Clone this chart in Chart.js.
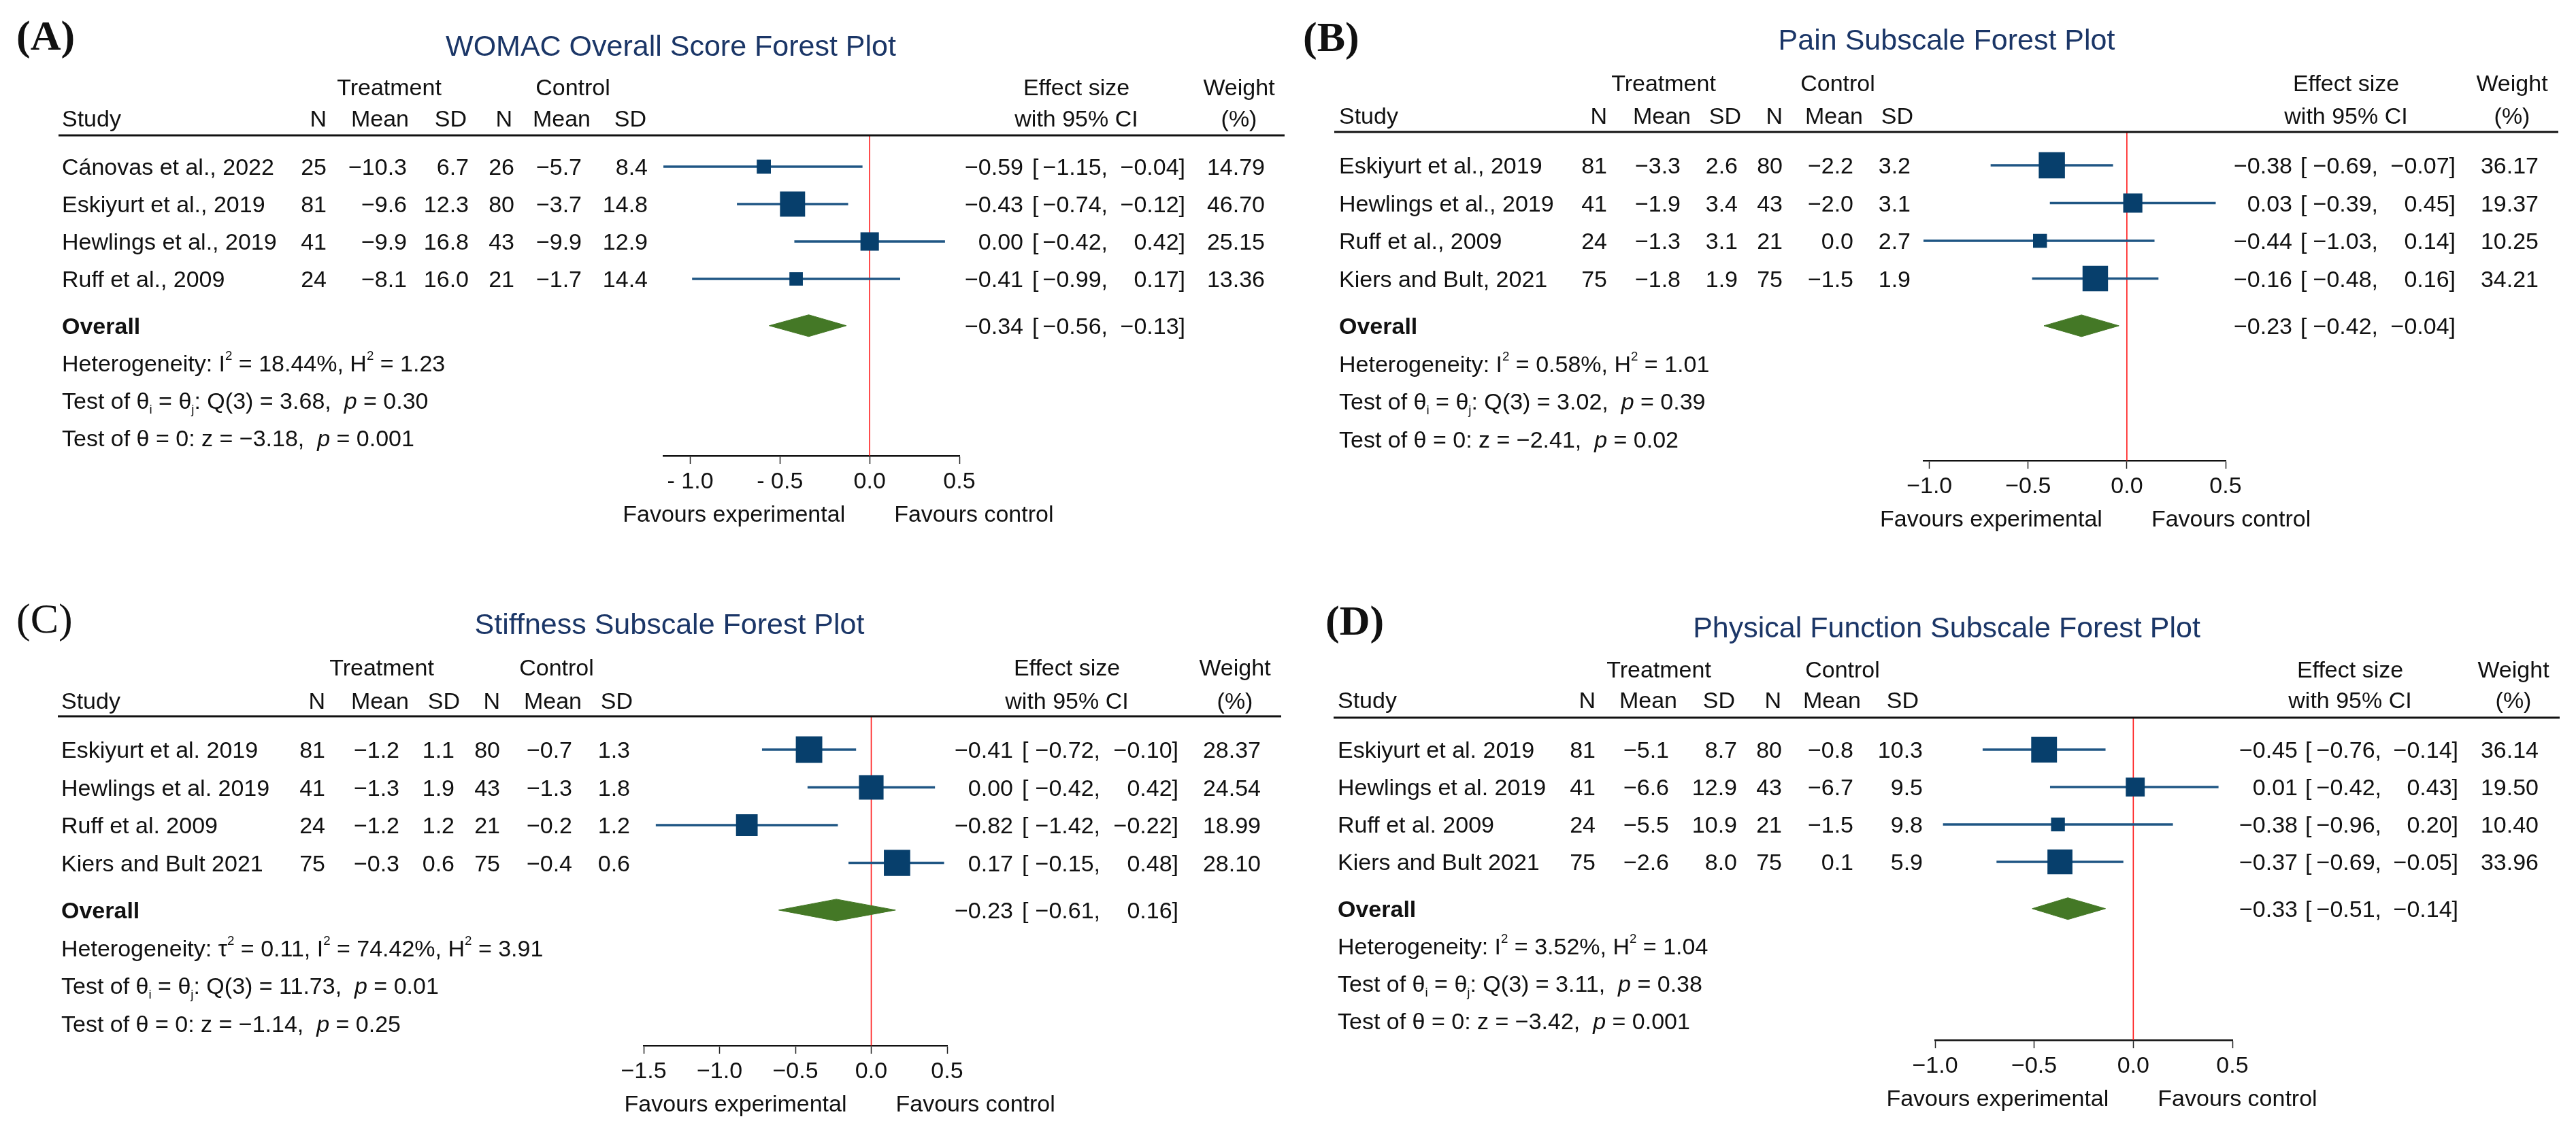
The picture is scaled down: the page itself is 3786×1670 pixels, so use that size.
<!DOCTYPE html>
<html>
<head>
<meta charset="utf-8">
<script src="https://cdn.jsdelivr.net/npm/chart.js@4.4.0/dist/chart.umd.min.js"></script>
<style>
  html, body { margin: 0; padding: 0; background: #fff; }
  #wrap { position: relative; width: 3786px; height: 1670px; background: #fff; overflow: hidden; }
  canvas { position: absolute; }
</style>
</head>
<body>
<div id="wrap">
  <canvas id="cA" width="1893" height="820" style="left:0px;top:0px;width:1893px;height:820px"></canvas>
  <canvas id="cB" width="1893" height="820" style="left:1893px;top:0px;width:1893px;height:820px"></canvas>
  <canvas id="cC" width="1893" height="850" style="left:0px;top:820px;width:1893px;height:850px"></canvas>
  <canvas id="cD" width="1893" height="850" style="left:1893px;top:820px;width:1893px;height:850px"></canvas>
</div>
<script>
// ---------- (A) WOMAC overall ----------
const studiesA = ['Cánovas et al., 2022', 'Eskiyurt et al., 2019', 'Hewlings et al., 2019', 'Ruff et al., 2009'];
const trtNA = [25, 81, 41, 24];
const trtMeanA = [-10.3, -9.6, -9.9, -8.1];
const trtSdA = [6.7, 12.3, 16.8, 16.0];
const ctlNA = [26, 80, 43, 21];
const ctlMeanA = [-5.7, -3.7, -9.9, -1.7];
const ctlSdA = [8.4, 14.8, 12.9, 14.4];
const effectA = [-0.59, -0.43, 0.00, -0.41];
const lowerA = [-1.15, -0.74, -0.42, -0.99];
const upperA = [-0.04, -0.12, 0.42, 0.17];
const weightA = [14.79, 46.70, 25.15, 13.36];
const overallA = [-0.34, -0.56, -0.13];          // es, lower, upper
const heteroA = [null, 18.44, 1.23];             // tau2, I2 (%), H2
const testsA = [3.68, '0.30', -3.18, '0.001'];   // Q, p, z, p
const ticksA = [-1.0, -0.5, 0.0, 0.5];
const tickLabelsA = ['- 1.0', '- 0.5', '0.0', '0.5'];

// ---------- (B) Pain ----------
const studiesB = ['Eskiyurt et al., 2019', 'Hewlings et al., 2019', 'Ruff et al., 2009', 'Kiers and Bult, 2021'];
const trtNB = [81, 41, 24, 75];
const trtMeanB = [-3.3, -1.9, -1.3, -1.8];
const trtSdB = [2.6, 3.4, 3.1, 1.9];
const ctlNB = [80, 43, 21, 75];
const ctlMeanB = [-2.2, -2.0, 0.0, -1.5];
const ctlSdB = [3.2, 3.1, 2.7, 1.9];
const effectB = [-0.38, 0.03, -0.44, -0.16];
const lowerB = [-0.69, -0.39, -1.03, -0.48];
const upperB = [-0.07, 0.45, 0.14, 0.16];
const weightB = [36.17, 19.37, 10.25, 34.21];
const overallB = [-0.23, -0.42, -0.04];
const heteroB = [null, 0.58, 1.01];
const testsB = [3.02, '0.39', -2.41, '0.02'];
const ticksB = [-1.0, -0.5, 0.0, 0.5];
const tickLabelsB = ['−1.0', '−0.5', '0.0', '0.5'];

// ---------- (C) Stiffness ----------
const studiesC = ['Eskiyurt et al. 2019', 'Hewlings et al. 2019', 'Ruff et al. 2009', 'Kiers and Bult 2021'];
const trtNC = [81, 41, 24, 75];
const trtMeanC = [-1.2, -1.3, -1.2, -0.3];
const trtSdC = [1.1, 1.9, 1.2, 0.6];
const ctlNC = [80, 43, 21, 75];
const ctlMeanC = [-0.7, -1.3, -0.2, -0.4];
const ctlSdC = [1.3, 1.8, 1.2, 0.6];
const effectC = [-0.41, 0.00, -0.82, 0.17];
const lowerC = [-0.72, -0.42, -1.42, -0.15];
const upperC = [-0.10, 0.42, -0.22, 0.48];
const weightC = [28.37, 24.54, 18.99, 28.10];
const overallC = [-0.23, -0.61, 0.16];
const heteroC = [0.11, 74.42, 3.91];
const testsC = [11.73, '0.01', -1.14, '0.25'];
const ticksC = [-1.5, -1.0, -0.5, 0.0, 0.5];
const tickLabelsC = ['−1.5', '−1.0', '−0.5', '0.0', '0.5'];

// ---------- (D) Physical function ----------
const studiesD = ['Eskiyurt et al. 2019', 'Hewlings et al. 2019', 'Ruff et al. 2009', 'Kiers and Bult 2021'];
const trtND = [81, 41, 24, 75];
const trtMeanD = [-5.1, -6.6, -5.5, -2.6];
const trtSdD = [8.7, 12.9, 10.9, 8.0];
const ctlND = [80, 43, 21, 75];
const ctlMeanD = [-0.8, -6.7, -1.5, 0.1];
const ctlSdD = [10.3, 9.5, 9.8, 5.9];
const effectD = [-0.45, 0.01, -0.38, -0.37];
const lowerD = [-0.76, -0.42, -0.96, -0.69];
const upperD = [-0.14, 0.43, 0.20, -0.05];
const weightD = [36.14, 19.50, 10.40, 33.96];
const overallD = [-0.33, -0.51, -0.14];
const heteroD = [null, 3.52, 1.04];
const testsD = [3.11, '0.38', -3.42, '0.001'];
const ticksD = [-1.0, -0.5, 0.0, 0.5];
const tickLabelsD = ['−1.0', '−0.5', '0.0', '0.5'];

const FONT = '"Liberation Sans", Arial, Helvetica, sans-serif';
const INK = '#111111';
const NAVY = '#1b3667';
const BOX = '#073f6c';
const CI = '#1f5684';
const GREEN = '#447826';
const RED = '#ff1a1a';
const FS = 34;

function fmt(v, d) {
  return (v < 0 ? '−' : '') + Math.abs(v).toFixed(d);
}

function txt(ctx, s, x, y, align, size, opt) {
  opt = opt || {};
  ctx.font = (opt.bold ? 'bold ' : '') + size + 'px ' + (opt.family || FONT);
  ctx.textAlign = align;
  ctx.textBaseline = 'alphabetic';
  ctx.fillStyle = opt.color || INK;
  ctx.fillText(s, x, y + size * 0.36);
}

function rich(ctx, parts, x, y, size) {
  let cx = x;
  ctx.textAlign = 'left';
  ctx.textBaseline = 'alphabetic';
  ctx.fillStyle = INK;
  parts.forEach(p => {
    const small = p.sub || p.sup;
    const fs = small ? size * 0.55 : size;
    ctx.font = (p.it ? 'italic ' : '') + fs + 'px ' + FONT;
    const dy = p.sub ? size * 0.2 : (p.sup ? -size * 0.5 : 0);
    ctx.fillText(p.t, cx, y + size * 0.36 + dy);
    cx += ctx.measureText(p.t).width;
  });
}

const tablePlugin = {
  id: 'forestTable',
  afterDraw(chart) {
    const d = chart.config.options.plugins.forestTable.data;
    const L = chart.config.options.plugins.forestTable.layout;
    const ctx = chart.ctx;
    const ys = chart.scales.y, xs = chart.scales.x;
    const n = d.studies.length;
    ctx.save();

    // panel letter and title
    txt(ctx, L.letter, L.letterX, L.letterY - 62 * 0.36, 'left', 62,
      { bold: L.letterBold, family: '"Liberation Serif", "Times New Roman", serif' });
    txt(ctx, L.title, L.titleX, L.titleY, 'center', 43, { color: NAVY });

    // headers
    txt(ctx, 'Treatment', L.trtX, L.hdr1Y, 'center', FS);
    txt(ctx, 'Control', L.ctlX, L.hdr1Y, 'center', FS);
    txt(ctx, 'Effect size', L.esX, L.hdr1Y, 'center', FS);
    txt(ctx, 'Weight', L.wtX, L.hdr1Y, 'center', FS);
    txt(ctx, 'Study', L.colStudy, L.hdr2Y, 'left', FS);
    ['N', 'Mean', 'SD', 'N', 'Mean', 'SD'].forEach((h, j) => txt(ctx, h, L.colHdr[j], L.hdr2Y, 'right', FS));
    txt(ctx, 'with 95% CI', L.esX, L.hdr2Y, 'center', FS);
    txt(ctx, '(%)', L.wtX, L.hdr2Y, 'center', FS);

    // rule under the header
    ctx.fillStyle = INK;
    ctx.fillRect(L.ruleX[0], L.ruleY - 1.5, L.ruleX[1] - L.ruleX[0], 3);

    const effectText = (es, lo, hi, y) => {
      txt(ctx, fmt(es, 2), L.esR, y, 'right', FS);
      txt(ctx, '[', L.brL, y, 'left', FS);
      txt(ctx, fmt(lo, 2) + ',', L.loR, y, 'right', FS);
      txt(ctx, fmt(hi, 2) + ']', L.hiR, y, 'right', FS);
    };

    // study rows
    for (let i = 0; i < n; i++) {
      const y = ys.getPixelForValue(i);
      txt(ctx, d.studies[i], L.colStudy, y, 'left', FS);
      const cells = [String(d.trtN[i]), fmt(d.trtMean[i], 1), fmt(d.trtSd[i], 1),
        String(d.ctlN[i]), fmt(d.ctlMean[i], 1), fmt(d.ctlSd[i], 1)];
      cells.forEach((c, j) => txt(ctx, c, L.colData[j], y, 'right', FS));
      effectText(d.effect[i], d.lower[i], d.upper[i], y);
      txt(ctx, d.weight[i].toFixed(2), L.wtR, y, 'right', FS);
    }

    // overall
    const yo = ys.getPixelForValue(n + 0.25);
    txt(ctx, 'Overall', L.colStudy, yo, 'left', FS, { bold: true });
    effectText(d.overall[0], d.overall[1], d.overall[2], yo);

    // heterogeneity and tests
    const het = [{ t: 'Heterogeneity: ' }];
    if (d.hetero[0] !== null) het.push({ t: 'τ' }, { t: '2', sup: true }, { t: ' = ' + d.hetero[0].toFixed(2) + ', ' });
    het.push({ t: 'I' }, { t: '2', sup: true }, { t: ' = ' + d.hetero[1].toFixed(2) + '%, H' },
      { t: '2', sup: true }, { t: ' = ' + d.hetero[2].toFixed(2) });
    rich(ctx, het, L.colStudy, ys.getPixelForValue(n + 1.25), FS);
    rich(ctx, [{ t: 'Test of θ' }, { t: 'i', sub: true }, { t: ' = θ' }, { t: 'j', sub: true },
      { t: ': Q(' + (n - 1) + ') = ' + d.tests[0].toFixed(2) + ',  ' }, { t: 'p', it: true },
      { t: ' = ' + d.tests[1] }], L.colStudy, ys.getPixelForValue(n + 2.25), FS);
    rich(ctx, [{ t: 'Test of θ = 0: z = ' + fmt(d.tests[2], 2) + ',  ' }, { t: 'p', it: true },
      { t: ' = ' + d.tests[3] }], L.colStudy, ys.getPixelForValue(n + 3.25), FS);

    // favours labels
    const x0 = xs.getPixelForValue(0);
    const yf = chart.chartArea.bottom + 85;
    txt(ctx, 'Favours experimental', x0 - 36, yf, 'right', FS);
    txt(ctx, 'Favours control', x0 + 36, yf, 'left', FS);
    ctx.restore();
  }
};

function buildChart(id, d, L) {
  const n = d.studies.length;
  const yMin = (L.ruleY - L.row0) / L.rowH;
  const yMax = (L.axisY - L.row0) / L.rowH;
  const ov = n + 0.25;
  const hh = 16 / L.rowH;
  const datasets = [];
  datasets.push({
    type: 'scatter', label: 'Study estimate',
    data: d.effect.map((v, i) => ({ x: v, y: i })),
    pointStyle: 'rect',
    pointRadius: d.weight.map(w => L.boxK * Math.sqrt(w) / Math.SQRT2),
    pointBackgroundColor: BOX, pointBorderWidth: 0, backgroundColor: BOX, borderColor: BOX,
    clip: false, order: 1
  });
  datasets.push({
    type: 'line', label: 'Overall',
    data: [{ x: d.overall[1], y: ov }, { x: d.overall[0], y: ov - hh }, { x: d.overall[2], y: ov },
      { x: d.overall[0], y: ov + hh }, { x: d.overall[1], y: ov }],
    fill: 'shape', backgroundColor: GREEN, borderColor: GREEN, borderWidth: 1,
    pointRadius: 0, tension: 0, clip: false, order: 2
  });
  d.lower.forEach((lo, i) => datasets.push({
    type: 'line', label: 'CI ' + i,
    data: [{ x: lo, y: i }, { x: d.upper[i], y: i }],
    borderColor: CI, borderWidth: 3.5, pointRadius: 0, fill: false, clip: false, order: 3
  }));
  datasets.push({
    type: 'line', label: 'No effect',
    data: [{ x: 0, y: yMin }, { x: 0, y: yMax }],
    borderColor: RED, borderWidth: 1.6, pointRadius: 0, fill: false, order: 4
  });

  return new Chart(document.getElementById(id), {
    type: 'scatter',
    data: { datasets },
    options: {
      responsive: false,
      animation: false,
      events: [],
      layout: { padding: { left: L.plotL, right: L.W - L.plotR, top: L.ruleY, bottom: 0 } },
      plugins: {
        legend: { display: false },
        tooltip: { enabled: false },
        title: { display: false },
        forestTable: { data: d, layout: L }
      },
      scales: {
        x: {
          type: 'linear', position: 'bottom', min: L.xMin, max: L.xMax,
          afterBuildTicks: s => { s.ticks = d.ticks.map(v => ({ value: v })); },
          afterFit: s => { s.height = L.H - L.axisY; },
          ticks: {
            callback: (v, i) => d.tickLabels[i],
            font: { family: FONT, size: FS }, color: INK, padding: 6,
            maxRotation: 0, autoSkip: false
          },
          grid: { drawOnChartArea: false, drawTicks: true, tickLength: 12, color: '#222', tickWidth: 1.5 },
          border: { display: true, color: '#111', width: 2.5 }
        },
        y: { type: 'linear', display: false, reverse: true, min: yMin, max: yMax }
      }
    },
    plugins: [tablePlugin]
  });
}

const pack = (s) => s;
buildChart('cA', {
  studies: studiesA, trtN: trtNA, trtMean: trtMeanA, trtSd: trtSdA, ctlN: ctlNA, ctlMean: ctlMeanA,
  ctlSd: ctlSdA, effect: effectA, lower: lowerA, upper: upperA, weight: weightA, overall: overallA,
  hetero: heteroA, tests: testsA, ticks: ticksA, tickLabels: tickLabelsA
}, {
  W: 1893, H: 820, letter: '(A)', letterX: 24, letterY: 73, letterBold: true,
  title: 'WOMAC Overall Score Forest Plot', titleX: 986, titleY: 67,
  hdr1Y: 128, hdr2Y: 174, ruleY: 199, ruleX: [86, 1888],
  row0: 245, rowH: 55, axisY: 670, xMin: -1.15, xMax: 0.5, plotL: 975, plotR: 1410,
  colStudy: 91, colData: [480, 598, 689, 756, 855, 952], colHdr: [480, 601, 686, 753, 868, 950],
  trtX: 572, ctlX: 842, esX: 1582, wtX: 1821,
  esR: 1504, brL: 1517, loR: 1628, hiR: 1742, wtR: 1859, boxK: 5.4
});

buildChart('cB', {
  studies: studiesB, trtN: trtNB, trtMean: trtMeanB, trtSd: trtSdB, ctlN: ctlNB, ctlMean: ctlMeanB,
  ctlSd: ctlSdB, effect: effectB, lower: lowerB, upper: upperB, weight: weightB, overall: overallB,
  hetero: heteroB, tests: testsB, ticks: ticksB, tickLabels: tickLabelsB
}, {
  W: 1893, H: 820, letter: '(B)', letterX: 22, letterY: 75, letterBold: true,
  title: 'Pain Subscale Forest Plot', titleX: 968, titleY: 58,
  hdr1Y: 122, hdr2Y: 170, ruleY: 194, ruleX: [68, 1867],
  row0: 243, rowH: 55.5, axisY: 677, xMin: -1.03, xMax: 0.5, plotL: 934, plotR: 1378,
  colStudy: 75, colData: [469, 577, 661, 727, 831, 915], colHdr: [469, 592, 666, 727, 845, 919],
  trtX: 552, ctlX: 808, esX: 1555, wtX: 1799,
  esR: 1476, brL: 1488, loR: 1602, hiR: 1716, wtR: 1838, boxK: 6.4
});

buildChart('cC', {
  studies: studiesC, trtN: trtNC, trtMean: trtMeanC, trtSd: trtSdC, ctlN: ctlNC, ctlMean: ctlMeanC,
  ctlSd: ctlSdC, effect: effectC, lower: lowerC, upper: upperC, weight: weightC, overall: overallC,
  hetero: heteroC, tests: testsC, ticks: ticksC, tickLabels: tickLabelsC
}, {
  W: 1893, H: 850, letter: '(C)', letterX: 24, letterY: 110, letterBold: false,
  title: 'Stiffness Subscale Forest Plot', titleX: 984, titleY: 97,
  hdr1Y: 161, hdr2Y: 210, ruleY: 233, ruleX: [85, 1883],
  row0: 282, rowH: 55.5, axisY: 717, xMin: -1.5, xMax: 0.5, plotL: 946, plotR: 1392,
  colStudy: 90, colData: [478, 587, 668, 735, 841, 926], colHdr: [478, 601, 676, 735, 855, 930],
  trtX: 561, ctlX: 818, esX: 1568, wtX: 1815,
  esR: 1489, brL: 1502, loR: 1617, hiR: 1732, wtR: 1853, boxK: 7.3
});

buildChart('cD', {
  studies: studiesD, trtN: trtND, trtMean: trtMeanD, trtSd: trtSdD, ctlN: ctlND, ctlMean: ctlMeanD,
  ctlSd: ctlSdD, effect: effectD, lower: lowerD, upper: upperD, weight: weightD, overall: overallD,
  hetero: heteroD, tests: testsD, ticks: ticksD, tickLabels: tickLabelsD
}, {
  W: 1893, H: 850, letter: '(D)', letterX: 55, letterY: 113, letterBold: true,
  title: 'Physical Function Subscale Forest Plot', titleX: 968, titleY: 102,
  hdr1Y: 164, hdr2Y: 209, ruleY: 235, ruleX: [67, 1869],
  row0: 282, rowH: 55, axisY: 709, xMin: -1.0, xMax: 0.5, plotL: 951, plotR: 1388,
  colStudy: 73, colData: [452, 560, 660, 726, 831, 933], colHdr: [452, 572, 657, 725, 842, 927],
  trtX: 545, ctlX: 815, esX: 1561, wtX: 1801,
  esR: 1484, brL: 1495, loR: 1607, hiR: 1720, wtR: 1838, boxK: 6.3
});
</script>
</body>
</html>
